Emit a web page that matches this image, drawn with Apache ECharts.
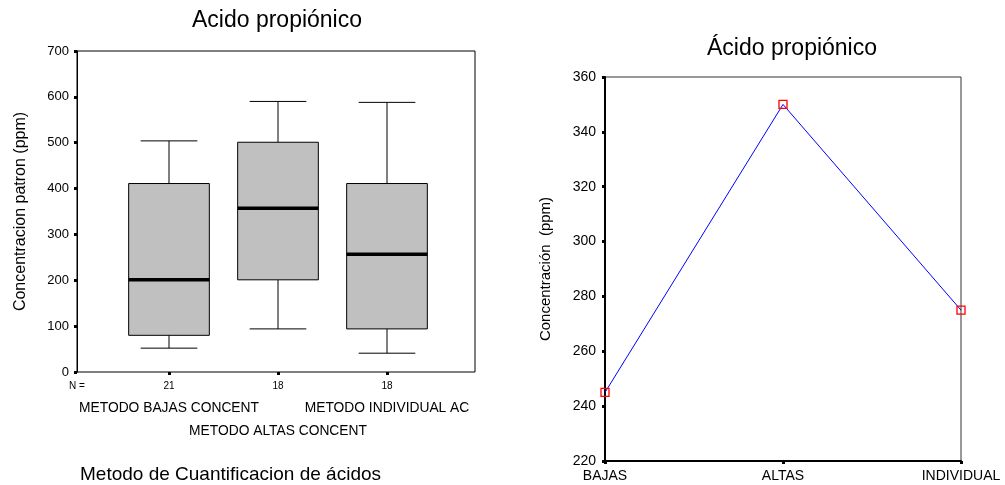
<!DOCTYPE html>
<html>
<head>
<meta charset="utf-8">
<script src="https://cdn.jsdelivr.net/npm/echarts@6/dist/echarts.min.js"></script>
<style>
  html, body { margin: 0; padding: 0; background: #fff; }
  #chart { width: 1005px; height: 485px; }
</style>
</head>
<body>
<div id="chart"></div>
<script>
// Box plot: propionic acid concentration by quantification method
const boxCategories = ['METODO BAJAS CONCENT', 'METODO ALTAS CONCENT', 'METODO INDIVIDUAL AC'];
const boxCounts = [21, 18, 18];
// [lower whisker, Q1, median, Q3, upper whisker]
const boxStats = [
  [52, 80, 201, 411, 504],
  [94, 201, 357, 501, 590],
  [41, 94, 257, 411, 588]
];
const boxYTicks = { min: 0, max: 700, interval: 100 };

// Line chart: mean concentration per method
const lineCategories = ['BAJAS', 'ALTAS', 'INDIVIDUAL'];
const lineValues = [245, 350, 275];
const lineYTicks = { min: 220, max: 360, interval: 20 };

const FONT = '"Liberation Sans", Arial, Helvetica, sans-serif';

function renderBox(params, api) {
  const x = api.value(0);
  const band = api.size([1, 0])[0];
  const bw = band * 0.74;
  const cw = band * 0.52;
  const pLo = api.coord([x, api.value(1)]);
  const pQ1 = api.coord([x, api.value(2)]);
  const pMed = api.coord([x, api.value(3)]);
  const pQ3 = api.coord([x, api.value(4)]);
  const pHi = api.coord([x, api.value(5)]);
  const cx = pQ1[0];
  const thin = { stroke: '#000', lineWidth: 1 };
  return {
    type: 'group',
    children: [
      { type: 'line', shape: { x1: cx, y1: pQ3[1], x2: cx, y2: pHi[1] }, style: thin },
      { type: 'line', shape: { x1: cx - cw / 2, y1: pHi[1], x2: cx + cw / 2, y2: pHi[1] }, style: thin },
      { type: 'line', shape: { x1: cx, y1: pQ1[1], x2: cx, y2: pLo[1] }, style: thin },
      { type: 'line', shape: { x1: cx - cw / 2, y1: pLo[1], x2: cx + cw / 2, y2: pLo[1] }, style: thin },
      { type: 'rect', shape: { x: cx - bw / 2, y: pQ3[1], width: bw, height: pQ1[1] - pQ3[1] },
        style: { fill: '#c0c0c0', stroke: '#000', lineWidth: 1 } },
      { type: 'line', shape: { x1: cx - bw / 2, y1: pMed[1], x2: cx + bw / 2, y2: pMed[1] },
        style: { stroke: '#000', lineWidth: 3.5 } }
    ]
  };
}

const chart = echarts.init(document.getElementById('chart'), null, { renderer: 'canvas' });

function plainTitle(text, left, top, size, align) {
  return {
    text, left, top, padding: 0, textAlign: align || 'left',
    textStyle: { fontFamily: FONT, fontSize: size, fontWeight: 'normal', color: '#000' }
  };
}

chart.setOption({
  animation: false,
  backgroundColor: '#fff',
  textStyle: { fontFamily: FONT, color: '#000' },
  title: [
    plainTitle('Acido propiónico', 277, 9, 23, 'center'),
    plainTitle('Ácido propiónico', 792, 37, 23, 'center'),
    plainTitle('Metodo de Cuantificacion de ácidos', 80, 465, 19),
    plainTitle('N =', 69, 381, 10)
  ],
  grid: [
    // frame of the box plot
    { left: 77, top: 51, width: 398, height: 321, show: true, borderColor: '#000', borderWidth: 1,
      backgroundColor: 'transparent' },
    // category band for the boxes
    { left: 114.5, top: 51, width: 327, height: 321 },
    // line chart
    { left: 605, top: 77, width: 356, height: 384, show: true, borderColor: '#333', borderWidth: 1,
      backgroundColor: 'transparent' }
  ],
  xAxis: [
    { gridIndex: 0, type: 'value', min: 0, max: 1, show: false },
    { gridIndex: 1, type: 'category', data: boxCategories, boundaryGap: true, position: 'bottom',
      axisLine: { show: false },
      axisTick: { show: true, alignWithLabel: true, length: 3, lineStyle: { color: '#000', width: 3 } },
      axisLabel: { margin: 9, fontSize: 10, color: '#000', fontFamily: FONT,
        formatter: (v, i) => String(boxCounts[i]) } },
    { gridIndex: 1, type: 'category', data: boxCategories, boundaryGap: true, position: 'bottom',
      axisLine: { show: false }, axisTick: { show: false },
      axisLabel: { margin: 29, fontSize: 13.8, color: '#000', fontFamily: FONT, interval: 0,
        formatter: (v, i) => (i === 1 ? '' : v) } },
    { gridIndex: 1, type: 'category', data: boxCategories, boundaryGap: true, position: 'bottom',
      axisLine: { show: false }, axisTick: { show: false },
      axisLabel: { margin: 52, fontSize: 13.8, color: '#000', fontFamily: FONT, interval: 0,
        formatter: (v, i) => (i === 1 ? v : '') } },
    { gridIndex: 2, type: 'category', data: lineCategories, boundaryGap: false,
      axisLine: { show: true, lineStyle: { color: '#000', width: 2 } },
      axisTick: { show: true, length: 3, lineStyle: { color: '#000', width: 3 } },
      axisLabel: { margin: 8, fontSize: 14, color: '#000', fontFamily: FONT } }
  ],
  yAxis: [
    { gridIndex: 0, type: 'value', min: boxYTicks.min, max: boxYTicks.max, interval: boxYTicks.interval,
      axisLine: { show: true, lineStyle: { color: '#000', width: 1 } },
      axisTick: { show: true, length: 3, lineStyle: { color: '#000', width: 3 } },
      axisLabel: { margin: 8, fontSize: 13, color: '#000', fontFamily: FONT },
      splitLine: { show: false },
      name: 'Concentracion patron (ppm)', nameLocation: 'middle', nameGap: 48,
      nameTextStyle: { fontSize: 16, color: '#000', fontFamily: FONT } },
    { gridIndex: 1, type: 'value', min: boxYTicks.min, max: boxYTicks.max, interval: boxYTicks.interval,
      show: false },
    { gridIndex: 2, type: 'value', min: lineYTicks.min, max: lineYTicks.max, interval: lineYTicks.interval,
      axisLine: { show: true, lineStyle: { color: '#000', width: 2 } },
      axisTick: { show: true, length: 3, lineStyle: { color: '#000', width: 3 } },
      axisLabel: { margin: 9, fontSize: 14, color: '#000', fontFamily: FONT },
      splitLine: { show: false },
      name: 'Concentración  (ppm)', nameLocation: 'middle', nameGap: 52,
      nameTextStyle: { fontSize: 15, color: '#000', fontFamily: FONT } }
  ],
  series: [
    {
      type: 'custom',
      xAxisIndex: 1,
      yAxisIndex: 1,
      renderItem: renderBox,
      encode: { x: 0, y: [1, 2, 3, 4, 5] },
      data: boxStats.map((s, i) => [i].concat(s))
    },
    {
      type: 'line',
      xAxisIndex: 4,
      yAxisIndex: 2,
      data: lineValues,
      symbol: 'rect',
      symbolSize: 8,
      lineStyle: { color: '#0000ff', width: 1 },
      itemStyle: { color: 'rgba(0,0,0,0)', borderColor: '#ff0000', borderWidth: 1.3 },
      z: 5
    }
  ]
});
</script>
</body>
</html>
